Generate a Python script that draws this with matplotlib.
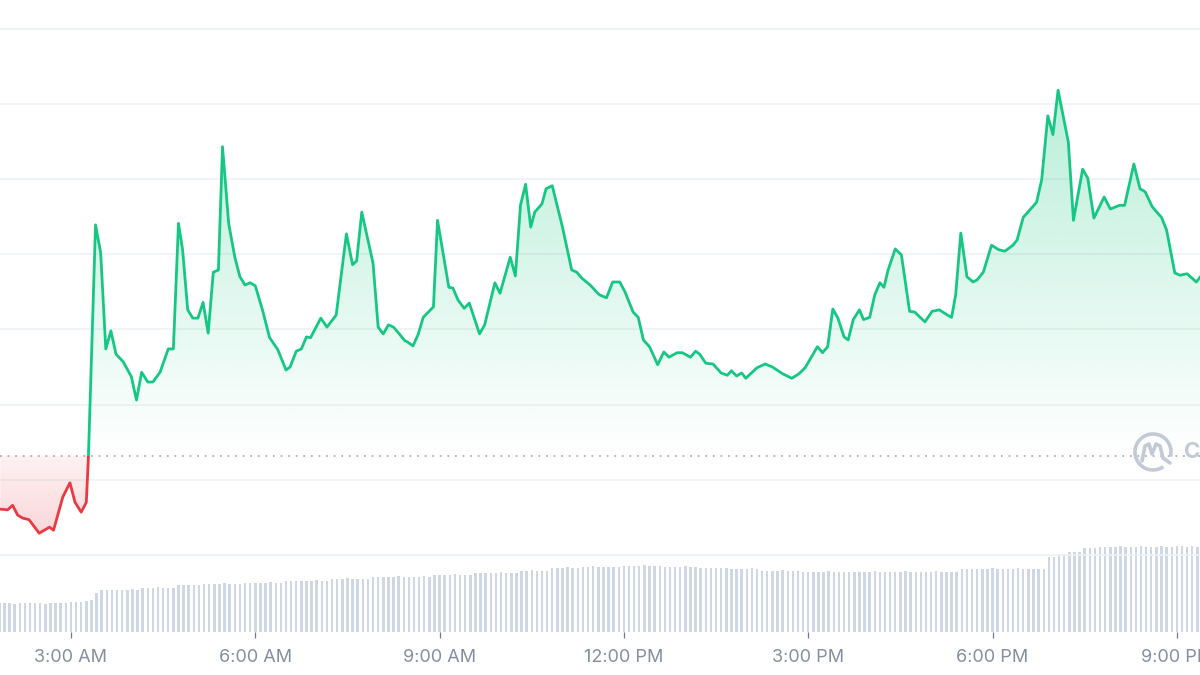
import numpy as np
import matplotlib.pyplot as plt
from matplotlib.colors import to_rgb
from matplotlib.patches import Rectangle, Arc
from matplotlib.path import Path

# price vertices: time in minutes after midnight, price in chart units
times = [111, 118, 123, 128, 133, 139, 149, 159, 163, 172, 179, 184, 190,
         195, 196, 197,
         204, 209, 214, 219, 224, 231, 239, 244, 249, 255, 260, 267, 275,
         280, 285, 289, 294, 299, 304, 309, 314, 319, 324, 328, 334, 340,
         345, 350, 355, 360, 367, 374, 382, 390, 394, 400, 405, 410, 414,
         419, 424, 430, 439, 449, 455, 459, 464, 475, 480, 485, 490, 495,
         500, 506, 509, 514, 519, 524, 534, 538, 549, 553, 558, 564, 569,
         579, 584, 594, 599, 609, 614, 619, 624, 629, 633, 640, 644, 650,
         660, 669, 674, 679, 687, 696, 703, 709, 716, 721, 729, 734, 739,
         745, 753, 759, 764, 772, 777, 785, 790, 794, 800, 807, 815, 821,
         825, 830, 835, 839, 850, 858, 865, 875, 884, 891, 897, 909, 914,
         919, 924, 929, 935, 939, 944, 950, 954, 960, 965, 970, 974, 978,
         985, 991, 999, 1004, 1014, 1021, 1028, 1036, 1040, 1044, 1049,
         1055, 1061, 1065, 1071, 1079, 1086, 1092, 1100, 1104, 1110, 1123,
         1128, 1134, 1139, 1144, 1154, 1159, 1168, 1173, 1179, 1189, 1195,
         1204, 1209, 1218, 1224, 1229, 1236, 1241, 1245, 1250, 1258, 1263,
         1270, 1279, 1283]
prices = [0.61, 0.60, 0.66, 0.53, 0.49, 0.47, 0.29, 0.37, 0.33, 0.77, 0.96,
          0.70, 0.57, 0.70, 1.00, 1.29,
          4.39, 4.02, 2.74, 2.98, 2.67, 2.57, 2.37, 2.06, 2.43, 2.30, 2.30,
          2.43, 2.74, 2.74, 4.41, 4.06, 3.26, 3.15, 3.15, 3.36, 2.95, 3.76,
          3.79, 5.43, 4.41, 3.96, 3.70, 3.59, 3.62, 3.58, 3.26, 2.89, 2.73,
          2.46, 2.50, 2.71, 2.74, 2.90, 2.89, 3.02, 3.15, 3.03, 3.19, 4.27,
          3.86, 3.91, 4.56, 3.88, 3.03, 2.94, 3.06, 3.03, 2.95, 2.85, 2.83,
          2.78, 2.93, 3.16, 3.30, 4.45, 3.56, 3.55, 3.39, 3.28, 3.35, 2.94,
          3.06, 3.62, 3.48, 3.96, 3.71, 4.65, 4.93, 4.36, 4.56, 4.67, 4.87,
          4.91, 4.36, 3.79, 3.76, 3.68, 3.59, 3.46, 3.42, 3.63, 3.63, 3.50,
          3.23, 3.16, 2.86, 2.77, 2.53, 2.70, 2.63, 2.69, 2.69, 2.63, 2.71,
          2.67, 2.55, 2.54, 2.42, 2.39, 2.45, 2.38, 2.42, 2.35, 2.49, 2.54,
          2.50, 2.41, 2.35, 2.41, 2.49, 2.77, 2.69, 2.77, 3.27, 3.15, 2.90,
          2.86, 3.13, 3.26, 3.13, 3.16, 3.46, 3.62, 3.56, 3.79, 4.07, 3.99,
          3.24, 3.23, 3.10, 3.24, 3.26, 3.19, 3.16, 3.46, 4.28, 3.70, 3.63,
          3.66, 3.76, 4.12, 4.06, 4.04, 4.12, 4.19, 4.49, 4.69, 4.99, 5.84,
          5.59, 6.18, 5.49, 4.45, 5.13, 5.01, 4.48, 4.76, 4.60, 4.65, 4.65,
          5.20, 4.87, 4.83, 4.63, 4.55, 4.49, 4.32, 3.75, 3.72, 3.74, 3.63,
          3.70]

# opening price (dotted reference line)
base = 1.32

# volume bars every 5 minutes starting at 1:50 AM, one row per hour
vol_start = 110
volumes = [29, 29, 29, 28, 29, 29, 29, 29, 29, 28, 29, 29,
           29, 29, 30, 30, 30, 31, 32, 39, 42, 42, 42, 42,
           42, 42, 43, 42, 44, 44, 44, 45, 44, 44, 44, 47,
           47, 47, 47, 47, 48, 48, 48, 48, 49, 48, 48, 48,
           49, 49, 49, 49, 49, 50, 49, 49, 51, 51, 51, 51,
           51, 51, 52, 51, 51, 53, 53, 53, 54, 53, 53, 53,
           53, 55, 55, 55, 55, 55, 56, 55, 55, 55, 55, 56,
           55, 57, 57, 57, 57, 58, 57, 57, 57, 59, 59, 59,
           59, 59, 60, 59, 59, 59, 61, 61, 62, 61, 61, 61,
           64, 64, 64, 65, 64, 64, 65, 65, 66, 65, 65, 65,
           65, 65, 66, 66, 66, 66, 67, 66, 66, 66, 65, 65,
           65, 65, 66, 65, 65, 64, 64, 64, 64, 64, 64, 63,
           63, 63, 63, 64, 63, 61, 61, 61, 61, 62, 61, 61,
           61, 60, 60, 60, 60, 60, 61, 60, 60, 60, 60, 60,
           60, 60, 60, 61, 60, 60, 60, 60, 60, 61, 60, 60,
           60, 60, 60, 61, 60, 60, 60, 60, 63, 63, 63, 63,
           63, 63, 64, 63, 63, 63, 63, 64, 63, 63, 63, 63,
           63, 75, 75, 78, 78, 80, 80, 80, 84, 84, 84, 85,
           85, 85, 85, 86, 85, 85, 85, 86, 85, 85, 85, 86,
           85, 85, 86, 86, 85, 86, 85]

tick_minutes = [180, 360, 540, 720, 900, 1080, 1260]
tick_labels = ['3:00 AM', '6:00 AM', '9:00 AM', '12:00 PM', '3:00 PM',
               '6:00 PM', '9:00 PM']

# colors
green = '#16c784'
red = '#ea3943'
grid_col = '#eff2f5'
vol_col = '#cfd6e4'
text_col = '#858ea0'

t = np.array(times, dtype=float)
p = np.array(prices)
tmin, tmax = 110.7, 1282.6

plt.rcParams['font.family'] = ['Inter', 'DejaVu Sans']

fig = plt.figure(figsize=(12, 6.75), dpi=100)
ax = fig.add_axes([0, 43 / 675, 1, 632 / 675])
axv = ax.twinx()

# price axis above volume axis
ax.set_zorder(2)
ax.patch.set_visible(False)
axv.set_zorder(1)

# horizontal grid lines
for g in range(8):
    ax.axhline(g, color=grid_col, lw=1.2, zorder=0)

# dotted opening price line
ax.axhline(base, color='#aab2c0', lw=1.3, ls=(0, (1, 3.2)), zorder=1)


def gradient_fill(color, lo, hi, a_lo, a_hi, where):
    """Fill between line and base with a vertical alpha gradient."""
    poly = ax.fill_between(t, p, base, where=where, interpolate=True,
                           facecolor='none', edgecolor='none')
    path = Path.make_compound_path(*poly.get_paths())
    grad = np.linspace(0, 1, 256).reshape(-1, 1)
    rgba = np.zeros((256, 1, 4))
    rgba[..., :3] = to_rgb(color)
    rgba[..., 3] = a_lo + (a_hi - a_lo) * grad
    im = ax.imshow(rgba, extent=[tmin, tmax, lo, hi], origin='lower',
                   aspect='auto', zorder=1, interpolation='bilinear')
    im.set_clip_path(path, transform=ax.transData)


gradient_fill(green, base, p.max(), 0.0, 0.30, p >= base)
gradient_fill(red, p.min(), base, 0.20, 0.07, p <= base)

# price line, green above the opening price and red below
line_up, = ax.plot(t, p, color=green, lw=2.0, zorder=3,
                   solid_joinstyle='round')
line_up.set_clip_path(Rectangle((tmin - 10, base), tmax - tmin + 20, 20,
                                transform=ax.transData))
line_dn, = ax.plot(t, p, color=red, lw=2.0, zorder=3,
                   solid_joinstyle='round')
line_dn.set_clip_path(Rectangle((tmin - 10, base - 20), tmax - tmin + 20, 20,
                                transform=ax.transData))

# volume bars
vol_t = vol_start + 5 * np.arange(len(volumes))
axv.bar(vol_t, volumes, width=2.4, color=vol_col, align='center')
axv.set_ylim(0, 632)
axv.set_yticks([])
for s in axv.spines.values():
    s.set_visible(False)

# axes limits and ticks
ax.set_xlim(tmin, tmax)
ax.set_ylim(-1.024, 7.380)
ax.set_yticks([])
ax.set_xticks(tick_minutes)
ax.set_xticklabels(tick_labels)
ax.tick_params(axis='x', length=4, width=0.9, color='#6f7a8e', pad=8,
               labelsize=13, labelcolor=text_col)
for s in ax.spines.values():
    s.set_visible(False)

# watermark logo (CoinMarketCap)
over = fig.add_axes([0, 0, 1, 1], zorder=5)
over.set_xlim(0, 1200)
over.set_ylim(675, 0)
over.axis('off')
over.add_patch(Arc((1153, 452), 36, 36, theta1=55, theta2=375,
                   color='#c3cad6', lw=2.6))
over.plot([1142, 1145, 1149, 1152, 1156, 1160, 1163, 1170],
          [461, 446, 444, 454, 444, 446, 458, 463],
          color='#c3cad6', lw=2.6, solid_capstyle='round')
over.text(1184, 452, 'CoinMarketCap', color='#c3cad6', fontsize=16,
          fontweight='bold', va='center', ha='left')

fig.savefig('out.png', dpi=100)
